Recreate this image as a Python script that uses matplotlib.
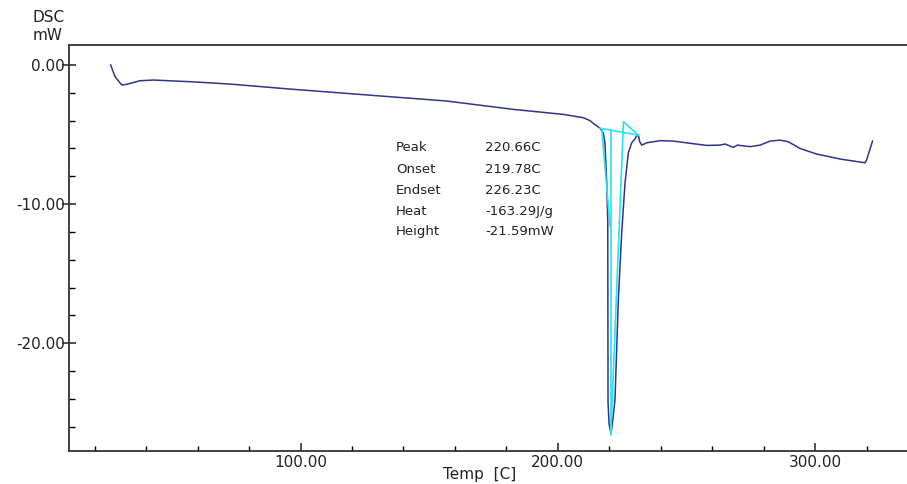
import matplotlib
matplotlib.use("Agg")
import matplotlib.pyplot as plt
from matplotlib.ticker import MultipleLocator, FormatStrFormatter

plt.rcParams["font.family"] = ["DejaVu Sans"]
plt.rcParams["axes.unicode_minus"] = False

# DSC trace
temp = [26.2, 27.9, 30.5, 32.4, 37.6, 42.8, 57.0, 72.6, 95.9, 134.8, 156.8, 182.7,
        202.1, 209.9, 212.5, 213.8, 216.4, 217.7, 218.3, 219.0, 219.4, 219.5, 219.9,
        220.66, 221.3, 222.2, 223.5, 224.8, 226.1, 227.4, 228.7, 230.0, 230.6, 231.3,
        231.8, 232.6, 234.6, 239.7, 244.9, 251.4, 257.9, 263.0, 265.0, 266.9, 268.2,
        269.8, 271.5, 274.7, 278.6, 282.5, 286.4, 289.6, 294.1, 300.6, 309.7, 319.4,
        320.0, 322.3]
dsc = [0.0, -0.84, -1.44, -1.39, -1.13, -1.08, -1.2, -1.37, -1.73, -2.28, -2.59, -3.19,
       -3.55, -3.79, -4.0, -4.2, -4.55, -4.91, -5.6, -8.5, -11.3, -24.2, -25.8,
       -26.5, -25.6, -24.1, -16.9, -12.1, -8.5, -6.3, -5.6, -5.3, -5.1, -5.04,
       -5.5, -5.76, -5.59, -5.44, -5.47, -5.63, -5.78, -5.76, -5.68, -5.83, -5.92,
       -5.76, -5.8, -5.87, -5.76, -5.47, -5.4, -5.52, -6.0, -6.4, -6.76, -7.03,
       -6.83, -5.47]

# peak analysis construction lines
base_t = [216.4, 231.3]
base_y = [-4.55, -5.04]
onset_t = [217.1, 220.3]
onset_y = [-4.68, -11.6]
peak_t = [220.66, 220.66]
peak_y = [-4.7, -26.6]
end_t = [220.6, 225.5, 231.3]
end_y = [-26.5, -4.08, -5.04]

labels = ["Peak", "Onset", "Endset", "Heat", "Height"]
values = ["220.66C", "219.78C", "226.23C", "-163.29J/g", "-21.59mW"]
label_y = [-5.9, -7.5, -9.0, -10.5, -12.0]

fig = plt.figure(figsize=(9.07, 4.84), dpi=100)
ax = fig.add_axes([69 / 907, 1 - 450.7 / 484, 1 - 69 / 907, (450.7 - 44.7) / 484])

ax.plot(temp, dsc, color="#33338a", lw=1.1)
cyan = "#22e4f2"
ax.plot(base_t, base_y, color=cyan, lw=1.2)
ax.plot(onset_t, onset_y, color=cyan, lw=1.2)
ax.plot(peak_t, peak_y, color=cyan, lw=1.2)
ax.plot(end_t, end_y, color=cyan, lw=1.2)

for lab, val, yy in zip(labels, values, label_y):
    ax.text(137.1, yy, lab, fontsize=9.5, color="#222222", va="center")
    ax.text(171.7, yy, val, fontsize=9.5, color="#222222", va="center")

ax.set_xlim(10.0, 335.7)
ax.set_ylim(-27.73, 1.46)

ax.xaxis.set_major_locator(MultipleLocator(100))
ax.xaxis.set_minor_locator(MultipleLocator(20))
ax.yaxis.set_major_locator(MultipleLocator(10))
ax.yaxis.set_minor_locator(MultipleLocator(2))
ax.xaxis.set_major_formatter(FormatStrFormatter("%.2f"))
ax.yaxis.set_major_formatter(FormatStrFormatter("%.2f"))

ax.tick_params(axis="x", which="major", direction="in", length=6, width=1.1,
               labelsize=11, pad=3, colors="#222222")
ax.tick_params(axis="x", which="minor", direction="in", length=3.5, width=1)
ax.tick_params(axis="y", which="major", direction="inout", length=10, width=1.1,
               labelsize=11, pad=-2, colors="#222222")
ax.tick_params(axis="y", which="minor", direction="in", length=4, width=1)

ax.spines["right"].set_visible(False)
for s in ["left", "top", "bottom"]:
    ax.spines[s].set_linewidth(1.3)
    ax.spines[s].set_color("#333333")

# axis titles placed like the instrument software does
fig.text(480 / 907, 1 - 475 / 484, "Temp  [C]", fontsize=11, color="#222222",
         ha="center", va="center")
fig.text(33 / 907, 1 - 18 / 484, "DSC", fontsize=11, color="#222222", va="center")
fig.text(33 / 907, 1 - 36 / 484, "mW", fontsize=11, color="#222222", va="center")

fig.savefig("out.png", dpi=100)
